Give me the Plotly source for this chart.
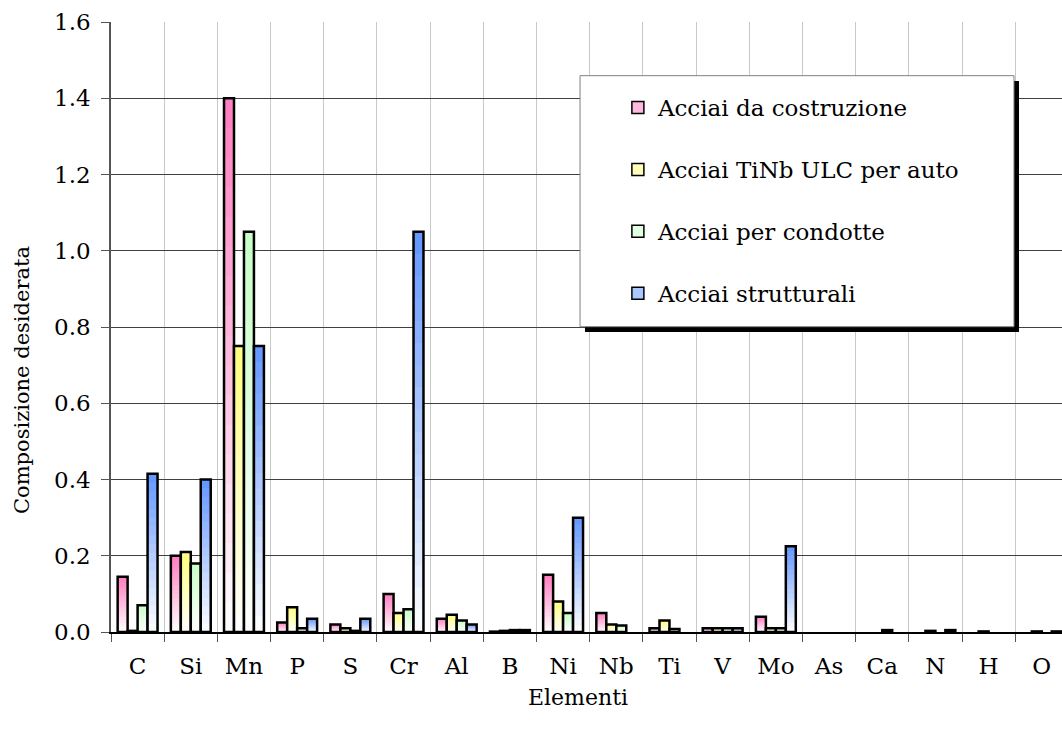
import plotly.graph_objects as go

elements = ["C", "Si", "Mn", "P", "S", "Cr", "Al", "B", "Ni", "Nb", "Ti", "V", "Mo", "As", "Ca", "N", "H", "O"]

series_names = ["Acciai da costruzione", "Acciai TiNb ULC per auto", "Acciai per condotte", "Acciai strutturali"]

costruzione = [0.145, 0.20, 1.40, 0.025, 0.020, 0.10, 0.035, 0.001, 0.15, 0.05, 0.010, 0.010, 0.040, 0, 0, 0, 0, 0]
tinb_ulc    = [0.003, 0.21, 0.75, 0.065, 0.010, 0.05, 0.045, 0.003, 0.08, 0.02, 0.030, 0.010, 0.010, 0, 0, 0.003, 0.0015, 0.0015]
condotte    = [0.070, 0.18, 1.05, 0.010, 0.003, 0.06, 0.030, 0.005, 0.05, 0.017, 0.008, 0.010, 0.010, 0, 0.005, 0, 0, 0]
strutturali = [0.415, 0.40, 0.75, 0.035, 0.035, 1.05, 0.020, 0.005, 0.30, 0, 0, 0.010, 0.225, 0, 0, 0.005, 0, 0.0015]

series_values = [costruzione, tinb_ulc, condotte, strutturali]
top_colors = [(255, 128, 192), (255, 255, 128), (200, 255, 200), (102, 153, 255)]

SERIF = "DejaVu Serif, serif"

N_STEPS = 18
BAR_W = 0.1875
START = -0.375


def lerp(c, t):
    r = [round(c[i] + (255 - c[i]) * t) for i in range(3)]
    return f"rgb({r[0]},{r[1]},{r[2]})"


def nz(vals, frac=1.0):
    # zero values are not drawn as bars
    return [v * frac if v > 0 else None for v in vals]


fig = go.Figure()
for si, (name, vals, col) in enumerate(zip(series_names, series_values, top_colors)):
    off = START + si * BAR_W
    # gradient fill: overlay of progressively shorter, lighter bars
    for k in range(N_STEPS):
        frac = (N_STEPS - k) / N_STEPS
        fig.add_trace(go.Bar(
            x=elements, y=nz(vals, frac),
            offset=off, width=BAR_W,
            marker=dict(color=lerp(col, k / (N_STEPS - 1) * 0.97), line=dict(width=0)),
            showlegend=False, hoverinfo="skip",
        ))
    # outline
    fig.add_trace(go.Bar(
        x=elements, y=nz(vals), offset=off, width=BAR_W, name=name,
        marker=dict(color="rgba(0,0,0,0)", line=dict(color="black", width=2.5)),
        showlegend=False,
    ))
    # legend entry
    fig.add_trace(go.Bar(
        x=[None], y=[None], name=name, legendgroup=f"g{si}",
        marker=dict(color=lerp(col, 0.45), line=dict(color="black", width=1.5)),
        showlegend=True,
    ))

fig.update_layout(
    width=1062, height=730,
    margin=dict(l=111, r=0, t=22, b=98),
    barmode="overlay",
    plot_bgcolor="white", paper_bgcolor="white",
    font=dict(family=SERIF, size=22, color="black"),
    xaxis=dict(
        type="category", range=[-0.5, 17.38],
        tickson="boundaries", ticks="outside", ticklen=8, tickcolor="#555",
        showgrid=True, gridcolor="#c8c8c8", gridwidth=1,
        showline=True, linecolor="black", linewidth=1.5,
        tickfont=dict(family=SERIF, size=23),
        ticklabelstandoff=13,
    ),
    yaxis=dict(
        range=[0, 1.6], dtick=0.2, tickformat=".1f",
        ticks="outside", ticklen=8, tickcolor="#555",
        showgrid=True, gridcolor="#404040", gridwidth=1,
        showline=True, linecolor="#555", linewidth=1.5,
        tickfont=dict(family=SERIF, size=23),
        ticklabelstandoff=6, zeroline=False,
    ),
    legend=dict(
        x=0.533, y=0.895, xanchor="left", yanchor="top",
        bgcolor="rgba(0,0,0,0)", borderwidth=0,
        font=dict(family=SERIF, size=23),
        tracegroupgap=29,
    ),
    shapes=[
        dict(type="rect", xref="paper", yref="paper", x0=0.4984, x1=0.9548, y0=0.4918, y1=0.9033,
             fillcolor="black", line=dict(width=0), layer="above"),
        dict(type="rect", xref="paper", yref="paper", x0=0.4932, x1=0.9495, y0=0.5005, y1=0.912,
             fillcolor="white", line=dict(color="#808080", width=1), layer="above"),
    ],
    annotations=[
        dict(text="Composizione desiderata", xref="paper", yref="paper", x=-0.0936, y=0.413,
             xanchor="center", yanchor="middle",
             textangle=-90, showarrow=False, font=dict(family=SERIF, size=21)),
        dict(text="Elementi", xref="paper", yref="paper", x=0.491, y=-0.1066,
             xanchor="center", yanchor="middle",
             showarrow=False, font=dict(family=SERIF, size=22)),
    ],
)

fig.write_html("out.html")
